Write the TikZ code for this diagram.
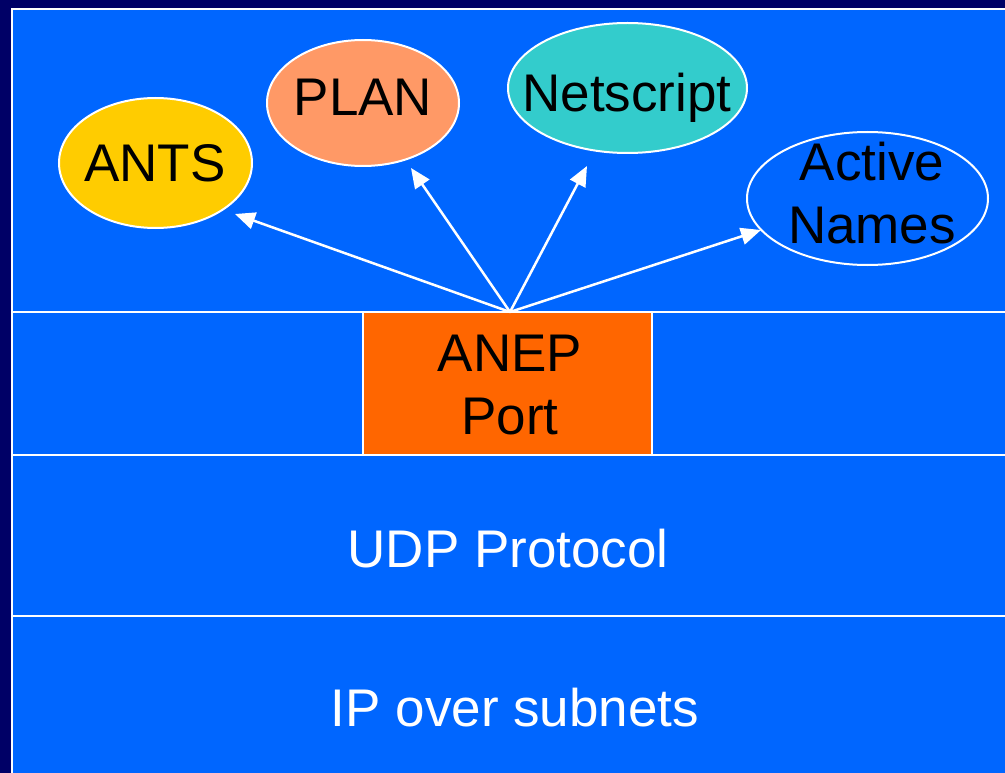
\documentclass[tikz,border=0pt]{standalone}
\usepackage{fontspec}
\setmainfont{Liberation Sans}
\usetikzlibrary{shapes.geometric,arrows.meta}
\definecolor{navy}{RGB}{0,0,102}
\definecolor{bgblue}{RGB}{0,102,255}
\definecolor{antsy}{RGB}{255,204,0}
\definecolor{planc}{RGB}{255,153,102}
\definecolor{netc}{RGB}{51,204,204}
\definecolor{anepc}{RGB}{255,102,0}
\begin{document}
\begin{tikzpicture}[x=1pt,y=-1pt,
  big/.style={font=\fontsize{53}{63}\selectfont, align=center, inner sep=0pt},
  oval/.style={ellipse, draw=white, line width=2pt, inner sep=0pt},
  sep/.style={draw=white, line width=2pt},
  arr/.style={draw=white, line width=2.5pt, -{Triangle[length=20pt,width=17pt]}}]
\useasboundingbox (0,0) rectangle (1005,773);
\fill[navy] (0,0) rectangle (1005,773);
\fill[bgblue] (12,9) rectangle (1005,773);
\draw[white, line width=2pt] (12,773) -- (12,9) -- (1005,9);
% layer separators
\draw[sep] (13,312) -- (1005,312);
\draw[sep] (13,455) -- (1005,455);
\draw[sep] (13,616) -- (1005,616);
% ANEP port box
\node[draw=white, line width=2pt, fill=anepc, minimum width=289pt, minimum height=143pt, inner sep=0pt] (anep) at (507.5,383.5) {};
\node[big, text=black] (aneptext) at (510,385) {ANEP\\Port};
% layer labels
\node[big, text=white] (udp) at (508,549) {UDP Protocol};
\node[big, text=white] (ip) at (515,708) {IP over subnets};
% ellipses
\node[oval, fill=antsy, minimum width=193pt, minimum height=130pt] (ants) at (155.5,163) {};
\node[big] at (155,163) {ANTS};
\node[oval, fill=planc, minimum width=192pt, minimum height=126pt] (plan) at (363,103) {};
\node[big] at (363,97) {PLAN};
\node[oval, fill=netc, minimum width=239pt, minimum height=130pt] (net) at (627.5,88) {};
\node[big] at (627,98) {Netscript};
\node[oval, fill=bgblue, minimum width=241pt, minimum height=133pt] (active) at (867.5,198.5) {};
\node[big] at (872,193) {Active\\Names};
% arrows
\coordinate (src) at (510,312);
\coordinate (tants) at (235,214);
\coordinate (tplan) at (411,168);
\coordinate (tnet) at (587,166);
\coordinate (tact) at (761,230);
\draw[arr] (src) -- (tants);
\draw[arr] (src) -- (tplan);
\draw[arr] (src) -- (tnet);
\draw[arr] (src) -- (tact);
\end{tikzpicture}
\end{document}
